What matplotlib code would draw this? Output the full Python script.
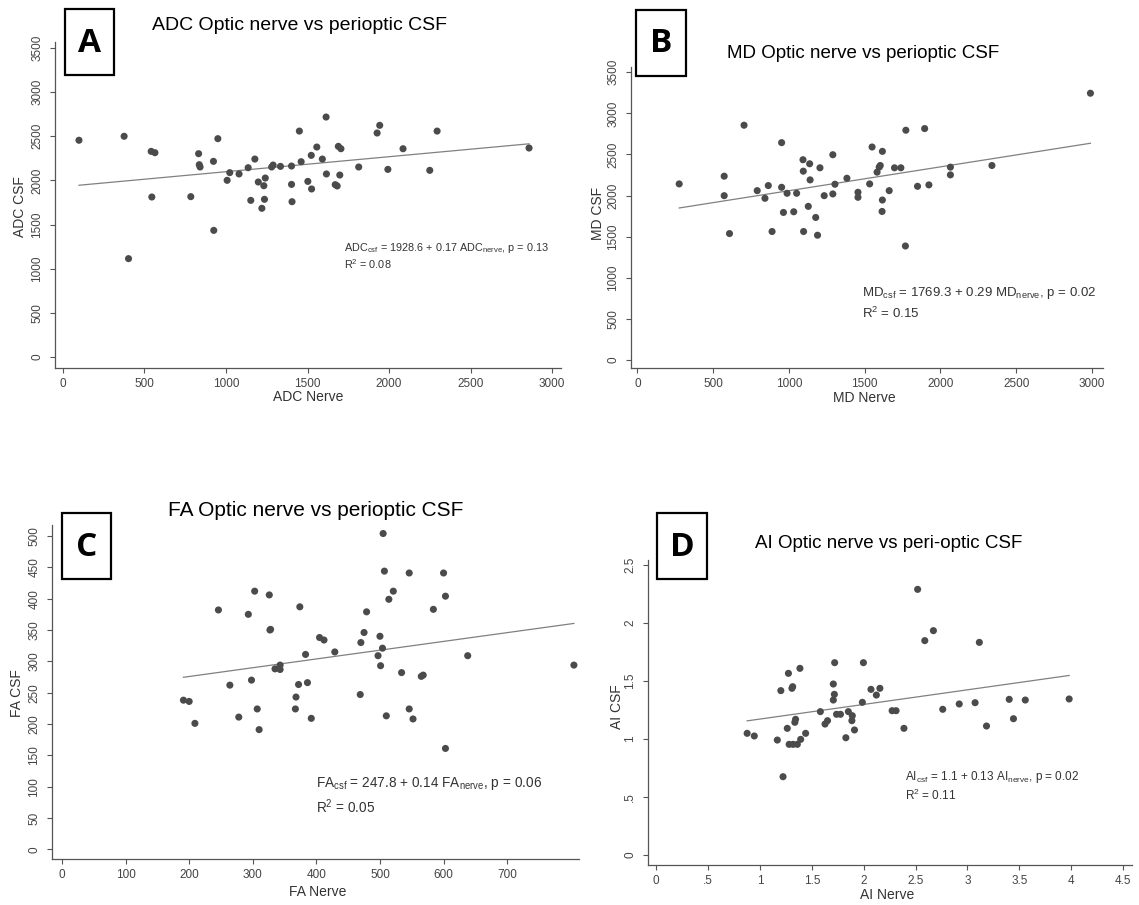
import numpy as np
import matplotlib
matplotlib.use("Agg")
import matplotlib.pyplot as plt
from matplotlib.patches import Rectangle

plt.rcParams['font.family'] = ['Liberation Sans', 'DejaVu Sans']
plt.rcParams['mathtext.fontset'] = 'custom'
plt.rcParams['mathtext.rm'] = 'Liberation Sans'
plt.rcParams['mathtext.it'] = 'Liberation Sans'

W, H = 1139, 905

# Panel A: ADC
adc_nerve = [98, 375, 402, 541, 564, 545, 784, 832, 836, 841, 923, 925, 950, 1007, 1023,
             1080, 1136, 1152, 1177, 1198, 1220, 1232, 1236, 1241, 1280, 1289, 1334, 1402,
             1402, 1405, 1450, 1461, 1502, 1523, 1525, 1557, 1591, 1614, 1616, 1670, 1682,
             1689, 1698, 1705, 1814, 1927, 1943, 1993, 2086, 2250, 2295, 2859]
adc_csf = [2455, 2500, 1114, 2329, 2314, 1812, 1816, 2303, 2178, 2152, 2216, 1434, 2473, 2001, 2088,
           2073, 2144, 1774, 2242, 1982, 1684, 1940, 1786, 2027, 2152, 2174, 2159, 2163,
           1955, 1759, 2559, 2212, 1989, 2284, 1903, 2378, 2242, 2718, 2073, 1952, 1937,
           2386, 2061, 2359, 2152, 2537, 2624, 2125, 2359, 2114, 2559, 2367]
adc_fit = [1928.6, 0.17]

# Panel B: MD
md_nerve = [276, 573, 573, 608, 704, 791, 842, 864, 889, 952, 952, 964, 988, 1032, 1051,
            1093, 1095, 1097, 1128, 1137, 1140, 1177, 1189, 1205, 1233, 1290, 1290, 1304,
            1383, 1456, 1456, 1533, 1549, 1582, 1596, 1603, 1617, 1617, 1615, 1662, 1697,
            1739, 1769, 1772, 1849, 1896, 1924, 2066, 2066, 2340, 2990]
md_csf = [2142, 2236, 1999, 1538, 2856, 2060, 1967, 2122, 1563, 2644, 2101, 1795, 2028, 1803, 2028,
          2436, 2297, 1563, 1869, 2387, 2191, 1734, 1518, 2338, 1999, 2497, 2020, 2138,
          2211, 2040, 1979, 2142, 2591, 2285, 2346, 2366, 2538, 1946, 1807, 2060, 2338,
          2338, 1387, 2795, 2113, 2815, 2130, 2346, 2252, 2366, 3245]
md_fit = [1769.3, 0.29]

# Panel C: FA
fa_nerve = [191, 200, 209, 246, 264, 278, 293, 298, 303, 307, 310, 326, 327, 328, 335, 343, 343,
            368, 367, 372, 374, 383, 386, 392, 405, 412, 429, 469, 470, 475, 479, 497, 500,
            501, 504, 505, 507, 510, 514, 521, 534, 546, 546, 552, 565, 568, 584, 600, 603,
            603, 638, 805]
fa_csf = [238, 236, 201, 382, 262, 211, 375, 270, 412, 224, 191, 406, 350, 351, 288, 294, 287,
          243, 224, 263, 387, 311, 266, 209, 338, 334, 315, 247, 330, 346, 379, 309, 340,
          293, 321, 504, 444, 213, 399, 412, 282, 441, 224, 208, 276, 278, 383, 441, 404,
          161, 309, 294]
fa_fit = [247.8, 0.14]

# Panel D: AI
ai_nerve = [0.876, 0.945, 1.167, 1.201, 1.222, 1.263, 1.274, 1.281, 1.308, 1.315, 1.319, 1.336,
            1.343, 1.360, 1.385, 1.392, 1.440, 1.582, 1.627, 1.651, 1.707, 1.707, 1.717, 1.720,
            1.738, 1.776, 1.828, 1.852, 1.886, 1.890, 1.911, 1.987, 1.997, 2.070, 2.122, 2.156,
            2.274, 2.312, 2.388, 2.520, 2.589, 2.672, 2.762, 2.921, 3.074, 3.115, 3.184, 3.403,
            3.444, 3.558, 3.981]
ai_csf = [1.049, 1.026, 0.991, 1.417, 0.675, 1.092, 1.566, 0.954, 1.437, 1.451, 0.954, 1.144,
          1.170, 0.954, 1.609, 0.997, 1.049, 1.236, 1.129, 1.158, 1.474, 1.336, 1.385, 1.658,
          1.213, 1.213, 1.011, 1.236, 1.158, 1.201, 1.078, 1.316, 1.658, 1.428, 1.379, 1.437,
          1.244, 1.244, 1.092, 2.290, 1.848, 1.934, 1.256, 1.302, 1.313, 1.833, 1.112, 1.342,
          1.175, 1.336, 1.345]
ai_fit = [1.046, 0.126]

TXT = '#333333'


def px_axes(fig, left, right, top, bottom):
    return fig.add_axes([left / W, 1 - bottom / H, (right - left) / W, (bottom - top) / H])


def px_text(fig, x, y, s, **kw):
    fig.text(x / W, 1 - y / H, s, **kw)


def panel(fig, box, xlim, ylim, xticks, xlabels, yticks, ylabels, x, y, fit):
    ax = px_axes(fig, *box)
    ax.scatter(x, y, s=26, color='#4b4b4b', edgecolors='none', zorder=3, clip_on=False)
    xs = np.array([min(x), max(x)])
    ax.plot(xs, fit[0] + fit[1] * xs, color='#808080', lw=0.9, zorder=2)
    ax.set_xlim(*xlim)
    ax.set_ylim(*ylim)
    ax.set_xticks(xticks)
    ax.set_xticklabels(xlabels)
    ax.set_yticks(yticks)
    ax.set_yticklabels(ylabels, rotation=90, va='center')
    for s in ['top', 'right']:
        ax.spines[s].set_visible(False)
    for s in ['left', 'bottom']:
        ax.spines[s].set_color('#555555')
        ax.spines[s].set_linewidth(0.9)
    ax.tick_params(direction='out', length=3.5, width=0.8, color='#555555',
                   labelcolor='#444444', labelsize=8.5)
    ax.tick_params(axis='x', pad=4)
    ax.tick_params(axis='y', pad=5)
    return ax


def letter_box(fig, l, t, r, b, letter):
    fig.patches.append(Rectangle((l / W, 1 - b / H), (r - l) / W, (b - t) / H,
                                 transform=fig.transFigure, fill=False,
                                 edgecolor='black', lw=1.6))
    px_text(fig, (l + r) / 2, (t + b) / 2 + 1, letter, ha='center', va='center',
            fontsize=24, fontweight='bold', family='Open Sans')


fig = plt.figure(figsize=(W / 100, H / 100), dpi=100)
fig.patch.set_facecolor('white')

# A
panel(fig, (55, 561, 42, 368), (-49, 3055), (-125, 3568),
      range(0, 3001, 500), [str(v) for v in range(0, 3001, 500)],
      range(0, 3501, 500), [str(v) for v in range(0, 3501, 500)],
      adc_nerve, adc_csf, adc_fit)
letter_box(fig, 65, 9, 114, 75, 'A')
px_text(fig, 300, 25, 'ADC Optic nerve vs perioptic CSF', ha='center', va='center', fontsize=14)
px_text(fig, 20, 207, 'ADC CSF', rotation=90, ha='center', va='center', fontsize=10, color=TXT)
px_text(fig, 308, 397, 'ADC Nerve', ha='center', va='center', fontsize=10, color=TXT)
px_text(fig, 344, 248, r'ADC$_{\rm csf}$ = 1928.6 + 0.17 ADC$_{\rm nerve}$, p = 0.13',
        va='center', fontsize=7.8, color=TXT)
px_text(fig, 344, 264, r'R$^2$ = 0.08', va='center', fontsize=7.8, color=TXT)

# B
panel(fig, (631, 1103, 67, 368), (-42, 3073), (-97, 3564),
      range(0, 3001, 500), [str(v) for v in range(0, 3001, 500)],
      range(0, 3501, 500), [str(v) for v in range(0, 3501, 500)],
      md_nerve, md_csf, md_fit)
letter_box(fig, 636, 10, 686, 76, 'B')
px_text(fig, 863, 53, 'MD Optic nerve vs perioptic CSF', ha='center', va='center', fontsize=13.5)
px_text(fig, 598, 213, 'MD CSF', rotation=90, ha='center', va='center', fontsize=10, color=TXT)
px_text(fig, 864, 398, 'MD Nerve', ha='center', va='center', fontsize=10, color=TXT)
px_text(fig, 862, 293, r'MD$_{\rm csf}$ = 1769.3 + 0.29 MD$_{\rm nerve}$, p = 0.02',
        va='center', fontsize=9.5, color=TXT)
px_text(fig, 862, 313, r'R$^2$ = 0.15', va='center', fontsize=9.5, color=TXT)

# C
panel(fig, (52, 579, 525, 859), (-15.7, 813), (-15.5, 517.6),
      range(0, 701, 100), [str(v) for v in range(0, 701, 100)],
      range(0, 501, 50), [str(v) for v in range(0, 501, 50)],
      fa_nerve, fa_csf, fa_fit)
letter_box(fig, 62, 513, 111, 579, 'C')
px_text(fig, 316, 510, 'FA Optic nerve vs perioptic CSF', ha='center', va='center', fontsize=15)
px_text(fig, 17, 693, 'FA CSF', rotation=90, ha='center', va='center', fontsize=10, color=TXT)
px_text(fig, 318, 892, 'FA Nerve', ha='center', va='center', fontsize=10, color=TXT)
px_text(fig, 316, 783, r'FA$_{\rm csf}$ = 247.8 + 0.14 FA$_{\rm nerve}$, p = 0.06',
        va='center', fontsize=9.8, color=TXT)
px_text(fig, 316, 807, r'R$^2$ = 0.05', va='center', fontsize=9.8, color=TXT)

# D
d_ticks = [0, 0.5, 1, 1.5, 2, 2.5, 3, 3.5, 4, 4.5]
d_labels = ['0', '.5', '1', '1.5', '2', '2.5', '3', '3.5', '4', '4.5']
panel(fig, (648, 1132, 560, 865), (-0.08, 4.587), (-0.086, 2.543),
      d_ticks, d_labels, d_ticks[:6], d_labels[:6],
      ai_nerve, ai_csf, ai_fit)
letter_box(fig, 657, 513, 707, 579, 'D')
px_text(fig, 889, 543, 'AI Optic nerve vs peri-optic CSF', ha='center', va='center', fontsize=13.5)
px_text(fig, 617, 707, 'AI CSF', rotation=90, ha='center', va='center', fontsize=10, color=TXT)
px_text(fig, 887, 895, 'AI Nerve', ha='center', va='center', fontsize=10, color=TXT)
px_text(fig, 905, 777, r'AI$_{\rm csf}$ = 1.1 + 0.13 AI$_{\rm nerve}$, p = 0.02',
        va='center', fontsize=8.5, color=TXT)
px_text(fig, 905, 795, r'R$^2$ = 0.11', va='center', fontsize=8.5, color=TXT)

fig.savefig('out.png', dpi=100)
